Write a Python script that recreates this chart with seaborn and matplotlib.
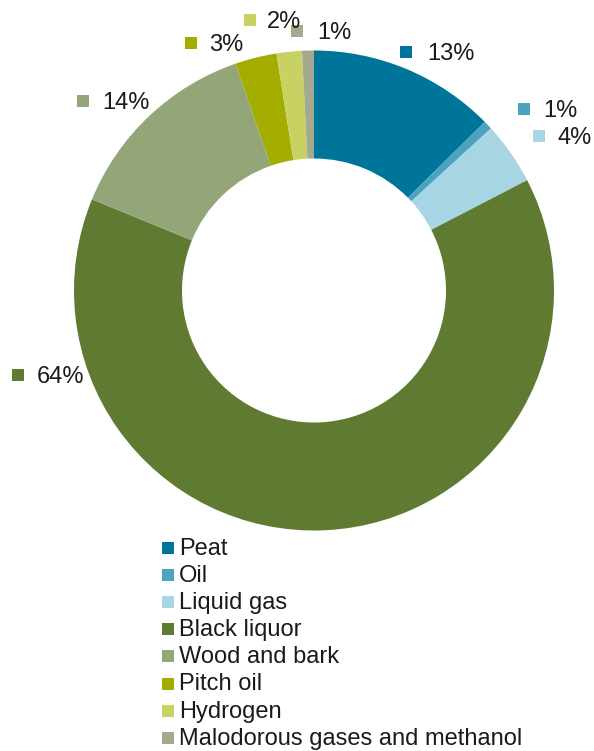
import matplotlib.pyplot as plt
import seaborn as sns
from matplotlib.patches import Rectangle

# data (shares in %)
fuels = ["Peat", "Oil", "Liquid gas", "Black liquor", "Wood and bark",
         "Pitch oil", "Hydrogen", "Malodorous gases and methanol"]
shares = [12.6, 0.6, 4.2, 63.8, 13.5, 2.8, 1.7, 0.8]
colors = ["#00759A", "#4BA3C0", "#A8D5E4", "#5F7A31", "#94A677",
          "#A2AD00", "#C9D163", "#A5AA8E"]

# label anchors in pixels (square centre x, y; text left x) - placed by hand in the original
label_pos = [(406, 52, 427), (524, 109, 543), (539, 136, 558), (18, 375, 37),
             (83, 101, 102), (191, 43, 209), (250, 20, 267), (297, 31, 317)]

W, H = 594, 751
CX, CY, R = 314, 290.5, 240

sns.set_theme(style="white")
plt.rcParams["font.family"] = ["Liberation Sans", "DejaVu Sans"]

fig = plt.figure(figsize=(W / 100, H / 100), dpi=100)
ax = fig.add_axes([0, 0, 1, 1])
ax.axis("off")

ax.pie(shares, colors=colors, startangle=90, counterclock=False, radius=1,
       wedgeprops={"width": 0.45, "linewidth": 0})
ax.set_xlim(-CX / R, (W - CX) / R)
ax.set_ylim((CY - H) / R, CY / R)
ax.set_aspect("auto")


def px(x, y):
    return (x - CX) / R, (CY - y) / R


sq = 12 / R
fs = 17
for val, col, (sx, sy, tx) in zip(shares, colors, label_pos):
    x0, y0 = px(sx, sy)
    ax.add_patch(Rectangle((x0 - sq / 2, y0 - sq / 2), sq, sq, color=col, lw=0, zorder=3))
    t0, ty = px(tx, sy + 2)
    ax.text(t0, ty, f"{round(val):.0f}%", ha="left", va="center",
            fontsize=fs, color="#1a1a1a", zorder=4)

# legend
row_y = 549
for name, col in zip(fuels, colors):
    x0, y0 = px(168, row_y - 1)
    ax.add_patch(Rectangle((x0 - sq / 2, y0 - sq / 2), sq, sq, color=col, lw=0))
    t0, ty = px(179, row_y)
    ax.text(t0, ty, name, ha="left", va="center", fontsize=fs, color="#1a1a1a")
    row_y += 27.1

fig.savefig("out.png", dpi=100)
